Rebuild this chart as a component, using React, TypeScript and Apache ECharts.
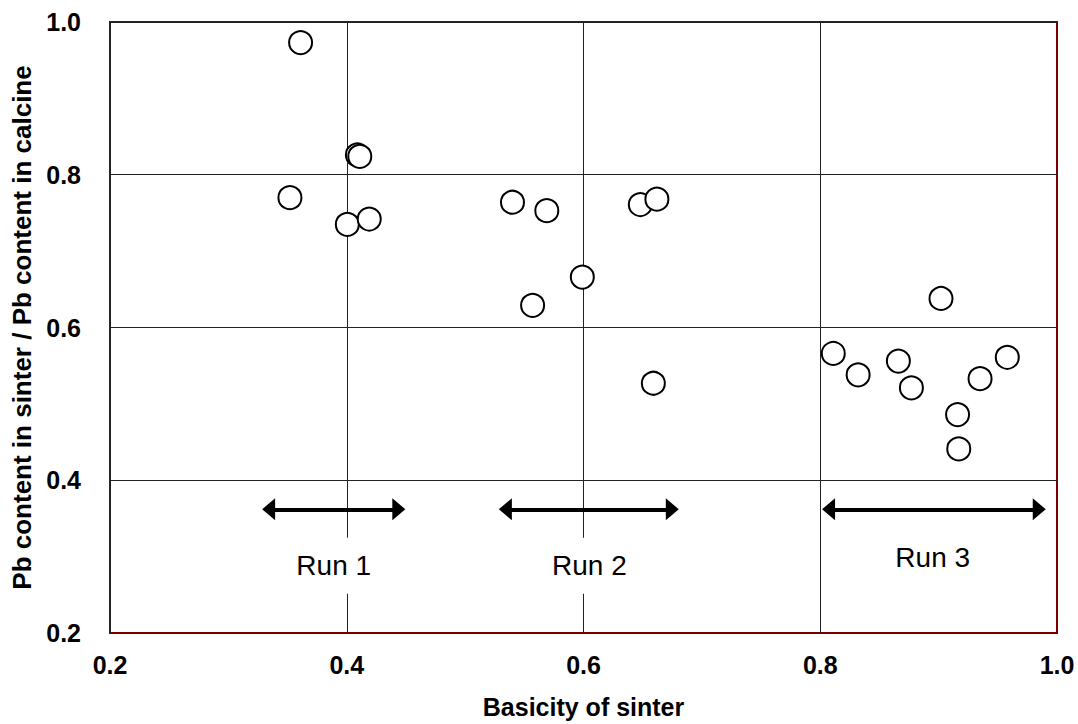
import React, { useEffect, useRef } from 'react';
import * as echarts from 'echarts';

// Scatter data: basicity of sinter (x) vs Pb content ratio (y)
const basicity = [0.361, 0.352, 0.409, 0.411, 0.4005, 0.419, 0.540, 0.569, 0.557, 0.599, 0.648, 0.662, 0.659, 0.811, 0.832, 0.866, 0.877, 0.902, 0.916, 0.917, 0.935, 0.958];
const pbRatio = [0.973, 0.770, 0.826, 0.824, 0.735, 0.742, 0.764, 0.753, 0.629, 0.666, 0.761, 0.768, 0.527, 0.566, 0.538, 0.556, 0.521, 0.638, 0.486, 0.441, 0.533, 0.561];

// Run annotations
const runNames = ['Run 1', 'Run 2', 'Run 3'];
const arrowStart = [0.334, 0.534, 0.807];
const arrowEnd = [0.444, 0.675, 0.985];
const arrowY = [0.362, 0.362, 0.362];
const runLabelX = [0.389, 0.605, 0.895];
const runLabelY = [0.288, 0.288, 0.2995];

// Axes
const xMin = 0.2, xMax = 1.0, xStep = 0.2;
const yMin = 0.2, yMax = 1.0, yStep = 0.2;
const xTitle = 'Basicity of sinter';
const yTitle = 'Pb content in sinter / Pb content in calcine';

const FONT = '"Liberation Sans", Arial, sans-serif';

export default function App() {
  const ref = useRef<HTMLDivElement>(null);
  useEffect(() => {
    if (!ref.current) return;
    const chart = echarts.init(ref.current, undefined, { renderer: 'svg' });
    const points = basicity.map((x, i) => [x, pbRatio[i]]);
    const arrows = runNames.map((_, i) => [
      { coord: [arrowStart[i], arrowY[i]] },
      { coord: [arrowEnd[i], arrowY[i]] },
    ]);
    const labels = runNames.map((n, i) => [runLabelX[i], runLabelY[i], n]);
    chart.setOption({
      animation: false,
      backgroundColor: '#fff',
      textStyle: { fontFamily: FONT },
      grid: {
        left: 110, right: 21, top: 22, bottom: 91,
        show: true, borderColor: '#800000', borderWidth: 2, backgroundColor: 'transparent',
      },
      xAxis: {
        type: 'value', min: xMin, max: xMax, interval: xStep,
        name: xTitle, nameLocation: 'middle', nameGap: 61,
        nameTextStyle: { fontSize: 25, fontWeight: 'bold', color: '#000', fontFamily: FONT },
        axisLine: { show: false }, axisTick: { show: false },
        axisLabel: { margin: 19, fontSize: 25, fontWeight: 'bold', color: '#000', fontFamily: FONT, formatter: (v: number) => v.toFixed(1) },
        splitLine: { show: true, lineStyle: { color: '#222', width: 1 } },
      },
      yAxis: {
        type: 'value', min: yMin, max: yMax, interval: yStep,
        name: yTitle, nameLocation: 'middle', nameGap: 75,
        nameTextStyle: { fontSize: 26, fontWeight: 'bold', color: '#000', fontFamily: FONT },
        axisLine: { show: false }, axisTick: { show: false },
        axisLabel: { margin: 29, fontSize: 25, fontWeight: 'bold', color: '#000', fontFamily: FONT, formatter: (v: number) => v.toFixed(1) },
        splitLine: { show: true, lineStyle: { color: '#222', width: 1 } },
      },
      series: [
        {
          type: 'scatter',
          data: labels,
          symbol: 'rect',
          symbolSize: [84, 56],
          itemStyle: { color: '#fff', opacity: 1 },
          z: 2,
          silent: true,
          label: {
            show: true, position: 'inside',
            formatter: (p: any) => p.data[2],
            fontSize: 28, color: '#000', fontFamily: FONT,
            textBorderWidth: 0,
          },
          markLine: {
            silent: true,
            symbol: ['triangle', 'triangle'],
            symbolSize: [22, 13],
            label: { show: false },
            lineStyle: { color: '#000', width: 4, type: 'solid' },
            data: arrows,
          },
        },
        {
          type: 'scatter',
          data: points,
          symbol: 'circle',
          symbolSize: 23,
          itemStyle: { color: '#fff', borderColor: '#000', borderWidth: 2, opacity: 1 },
          z: 3,
        },
      ],
    });
    return () => chart.dispose();
  }, []);
  return <div ref={ref} style={{ position: 'absolute', left: 0, top: 0, width: 1078, height: 724 }} />;
}
